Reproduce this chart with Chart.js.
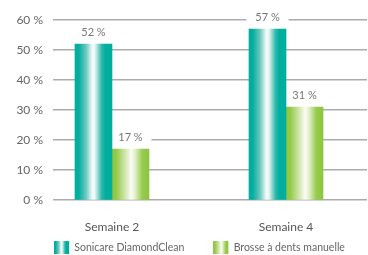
<!DOCTYPE html>
<html>
<head>
<meta charset="utf-8">
<script src="https://cdn.jsdelivr.net/npm/chart.js@4.4.1/dist/chart.umd.min.js"></script>
<style>
  html, body { margin: 0; padding: 0; background: #fff; overflow: hidden; }
</style>
</head>
<body>
<canvas id="chart" width="368" height="255"></canvas>
<script>
// Data
const categories = ['Semaine 2', 'Semaine 4'];
const seriesNames = ['Sonicare DiamondClean', 'Brosse à dents manuelle'];
const sonicareValues = [52, 57];
const manualValues = [17, 31];

// vertical highlight stripes of the bars (left -> right)
const tealStops = [[0, '#00ae9f'], [0.1, '#03ae9f'], [0.3, '#6cc9c0'], [0.47, '#f4fbfa'], [0.53, '#eef8f6'], [0.72, '#2db8aa'], [0.82, '#00ae9f'], [1, '#00ae9f']];
const greenStops = [[0, '#8cc63e'], [0.12, '#95ca4c'], [0.35, '#cfe6aa'], [0.52, '#fbfdf6'], [0.62, '#e2f0cc'], [0.82, '#97cb4d'], [1, '#8cc63e']];

const FONT = 'Lato, "Open Sans", sans-serif';
const SWATCH = 15;      // visible legend swatch width
const SWATCH_LEAD = 24; // empty space before each swatch

function makeGradient(ctx, x0, x1, stops, lead) {
    const g = ctx.createLinearGradient(x0, 0, x1, 0);
    const f = lead ? lead / (x1 - x0) : 0;
    if (f > 0) {
        g.addColorStop(0, 'rgba(255,255,255,0)');
        g.addColorStop(f - 0.001, 'rgba(255,255,255,0)');
    }
    stops.forEach(function (s) { g.addColorStop(f + s[0] * (1 - f), s[1]); });
    return g;
}

const toPoints = (values) => values.map((v, i) => ({ x: i + 1, y: v }));

const ctx = document.getElementById('chart').getContext('2d');

new Chart(ctx, {
    type: 'bar',
    data: {
        datasets: [
            { label: seriesNames[0], data: toPoints(sonicareValues), stops: tealStops, backgroundColor: '#00ae9f', borderWidth: 0 },
            { label: seriesNames[1], data: toPoints(manualValues), stops: greenStops, backgroundColor: '#8cc63e', borderWidth: 0 }
        ]
    },
    options: {
        responsive: false,
        devicePixelRatio: 1,
        animation: false,
        layout: { padding: { left: 8, right: 1, top: 20, bottom: 0 } },
        datasets: { bar: { barThickness: 37 } },
        plugins: {
            tooltip: { enabled: false },
            legend: {
                position: 'bottom',
                align: 'center',
                maxHeight: 19,
                labels: {
                    boxWidth: SWATCH_LEAD + SWATCH,
                    boxHeight: 13,
                    padding: 5,
                    color: '#666',
                    font: { family: FONT, size: 10.5 }
                }
            }
        },
        scales: {
            x: {
                type: 'linear',
                offset: false,
                min: 0.661,
                max: 2.4655,
                afterBuildTicks: function (scale) {
                    scale.ticks = categories.map((c, i) => ({ value: i + 1 }));
                },
                afterFit: function (scale) { scale.height = 36; },
                grid: { display: false, drawTicks: false },
                border: { display: false },
                ticks: {
                    autoSkip: false,
                    maxRotation: 0,
                    padding: 20,
                    color: '#555',
                    font: { family: FONT, size: 12 },
                    callback: function (v) { return categories[v - 1] || ''; }
                }
            },
            y: {
                min: 0,
                max: 60,
                afterFit: function (scale) { scale.width = 45; },
                grid: { color: '#ababab', lineWidth: 1.4, drawTicks: false },
                border: { display: false },
                ticks: {
                    stepSize: 10,
                    padding: 10,
                    color: '#666',
                    font: { family: FONT, size: 12 },
                    callback: function (v) { return v + ' %'; }
                }
            }
        }
    },
    plugins: [{
        id: 'stripes',
        beforeDraw: function (chart) {
            const c = chart.ctx;
            const lg = chart.legend;
            if (!lg || !lg.legendItems) return;
            const bw = lg.options.labels.boxWidth;
            lg.legendItems.forEach(function (item, i) {
                const hb = lg.legendHitBoxes[i];
                const stops = chart.data.datasets[item.datasetIndex].stops;
                item.fillStyle = makeGradient(c, hb.left, hb.left + bw, stops, SWATCH_LEAD);
                item.lineWidth = 0;
            });
        },
        beforeDatasetsDraw: function (chart) {
            const c = chart.ctx;
            chart.data.datasets.forEach(function (ds, di) {
                chart.getDatasetMeta(di).data.forEach(function (el) {
                    const p = el.getProps(['x', 'y', 'width'], true);
                    const left = p.x - p.width / 2;
                    el.options = Object.assign({}, el.options, {
                        backgroundColor: makeGradient(c, left, left + p.width, ds.stops)
                    });
                    // white plate behind the value label (cuts the grid line)
                    c.fillStyle = '#fff';
                    c.fillRect(p.x - 21, p.y - 19, 42, 14);
                });
            });
        }
    }, {
        id: 'valueLabels',
        afterDatasetsDraw: function (chart) {
            const c = chart.ctx;
            c.save();
            c.font = '11px ' + FONT;
            c.textAlign = 'center';
            c.textBaseline = 'middle';
            c.fillStyle = '#777';
            chart.data.datasets.forEach(function (ds, di) {
                chart.getDatasetMeta(di).data.forEach(function (el, i) {
                    const p = el.getProps(['x', 'y'], true);
                    c.fillText(ds.data[i].y + ' %', p.x, p.y - 12);
                });
            });
            c.restore();
        }
    }]
});
</script>
</body>
</html>
